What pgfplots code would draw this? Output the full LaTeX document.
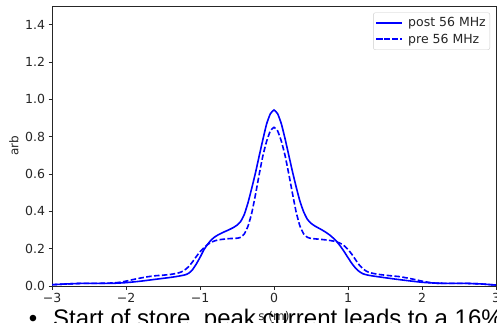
\documentclass[border=0pt]{standalone}
\usepackage{pgfplots}
\pgfplotsset{compat=1.18}
\usepackage{pgfplotstable}
\usepackage{fontspec}
\setmainfont{DejaVu Sans}
\newfontfamily\slidefont{Liberation Sans}

\pgfplotstableread{
x y
-3.0 0.007
-2.8 0.011
-2.6 0.014
-2.4 0.014
-2.2 0.014
-2.0 0.018
-1.8 0.026
-1.6 0.036
-1.4 0.046
-1.3 0.052
-1.2 0.060
-1.15 0.069
-1.1 0.088
-1.05 0.118
-1.0 0.153
-0.95 0.192
-0.9 0.222
-0.85 0.246
-0.8 0.263
-0.75 0.275
-0.7 0.285
-0.65 0.294
-0.6 0.303
-0.55 0.313
-0.5 0.326
-0.45 0.346
-0.4 0.385
-0.35 0.448
-0.3 0.525
-0.25 0.607
-0.2 0.697
-0.15 0.785
-0.1 0.868
-0.05 0.922
0.0 0.943
0.05 0.922
0.1 0.868
0.15 0.788
0.2 0.700
0.25 0.612
0.3 0.530
0.35 0.455
0.4 0.398
0.45 0.358
0.5 0.336
0.55 0.322
0.6 0.311
0.65 0.300
0.7 0.288
0.75 0.274
0.8 0.257
0.85 0.237
0.9 0.212
0.95 0.183
1.0 0.152
1.05 0.122
1.1 0.097
1.15 0.078
1.2 0.066
1.25 0.060
1.3 0.056
1.4 0.050
1.6 0.039
1.8 0.029
2.0 0.020
2.2 0.015
2.4 0.014
2.6 0.014
2.8 0.011
3.0 0.005
}\post

\pgfplotstableread{
x y
-3.0 0.007
-2.8 0.011
-2.6 0.014
-2.4 0.014
-2.2 0.016
-2.1 0.019
-2.0 0.026
-1.9 0.035
-1.8 0.043
-1.7 0.050
-1.6 0.055
-1.5 0.058
-1.4 0.062
-1.3 0.069
-1.25 0.076
-1.2 0.088
-1.15 0.105
-1.1 0.130
-1.05 0.158
-1.0 0.183
-0.95 0.204
-0.9 0.221
-0.85 0.234
-0.8 0.242
-0.75 0.247
-0.7 0.250
-0.6 0.254
-0.5 0.256
-0.45 0.261
-0.4 0.280
-0.35 0.322
-0.3 0.392
-0.25 0.490
-0.2 0.598
-0.15 0.698
-0.1 0.775
-0.05 0.830
0.0 0.850
0.05 0.830
0.1 0.775
0.15 0.698
0.2 0.600
0.25 0.495
0.3 0.395
0.35 0.322
0.4 0.280
0.45 0.261
0.5 0.255
0.6 0.251
0.7 0.247
0.8 0.241
0.85 0.236
0.9 0.228
0.95 0.215
1.0 0.196
1.05 0.171
1.1 0.142
1.15 0.114
1.2 0.093
1.25 0.079
1.3 0.071
1.4 0.063
1.5 0.058
1.6 0.054
1.7 0.050
1.8 0.043
1.9 0.035
2.0 0.026
2.1 0.019
2.2 0.015
2.4 0.014
2.6 0.014
2.8 0.011
3.0 0.005
}\pre

\begin{document}
\begin{tikzpicture}
\begin{axis}[
  scale only axis,
  width=444pt, height=280pt,
  xmin=-3, xmax=3, ymin=0, ymax=1.5,
  enlargelimits=false,
  axis line style={black!85, line width=0.8pt},
  tick style={black!85, line width=0.8pt},
  tick align=outside,
  major tick length=3.5pt,
  xtick pos=left, ytick pos=left,
  xtick={-3,-2,-1,0,1,2,3},
  xticklabels={−3,−2,−1,0,1,2,3},
  ytick={0,0.2,0.4,0.6,0.8,1.0,1.2,1.4},
  yticklabels={0.0,0.2,0.4,0.6,0.8,1.0,1.2,1.4},
  tick label style={font=\fontsize{12.5}{14}\selectfont, text=black!85},
  xlabel={s (m)},
  ylabel={arb},
  label style={font=\fontsize{12}{14}\selectfont, text=black!85},
  xlabel style={at={(axis description cs:0.5,0)}, anchor=north, yshift=-25pt, inner sep=0pt},
  ylabel style={at={(axis description cs:-0.0856,0.5)}, anchor=center, inner sep=0pt},
  legend style={at={(axis description cs:1,1)}, anchor=north east, xshift=-6pt, yshift=-6.5pt,
    draw=black!20, rounded corners=2pt, fill=white,
    font=\fontsize{12.5}{14}\selectfont, text=black!85,
    inner xsep=2pt, inner ysep=4pt, row sep=3.5pt, column sep=3pt,
    nodes={inner xsep=2pt, inner ysep=1pt}},
  legend cell align=left,
  legend image code/.code={\draw[#1, line width=1.8pt] plot coordinates {(0pt,0pt) (13pt,0pt) (26pt,0pt)};},
]
\addplot[blue, line width=1.6pt, smooth, tension=0.3] table[x=x,y=y] {\post};
\addlegendentry{post 56 MHz}
\addplot[blue, line width=1.6pt, smooth, tension=0.3, dash pattern=on 5.5pt off 2.4pt] table[x=x,y=y] {\pre};
\addlegendentry{pre 56 MHz}
\end{axis}
\node[anchor=base, font=\slidefont\fontsize{24}{28}\selectfont, inner sep=0pt] at (-19pt,-40pt) {•};
\node[anchor=base west, font=\slidefont\fontsize{24}{28}\selectfont, inner sep=0pt] at (1pt,-40pt) {Start of store, peak current leads to a 16\%};
\pgfresetboundingbox
\useasboundingbox (-52pt,-36pt) rectangle (445pt,286pt);
\end{tikzpicture}
\end{document}
